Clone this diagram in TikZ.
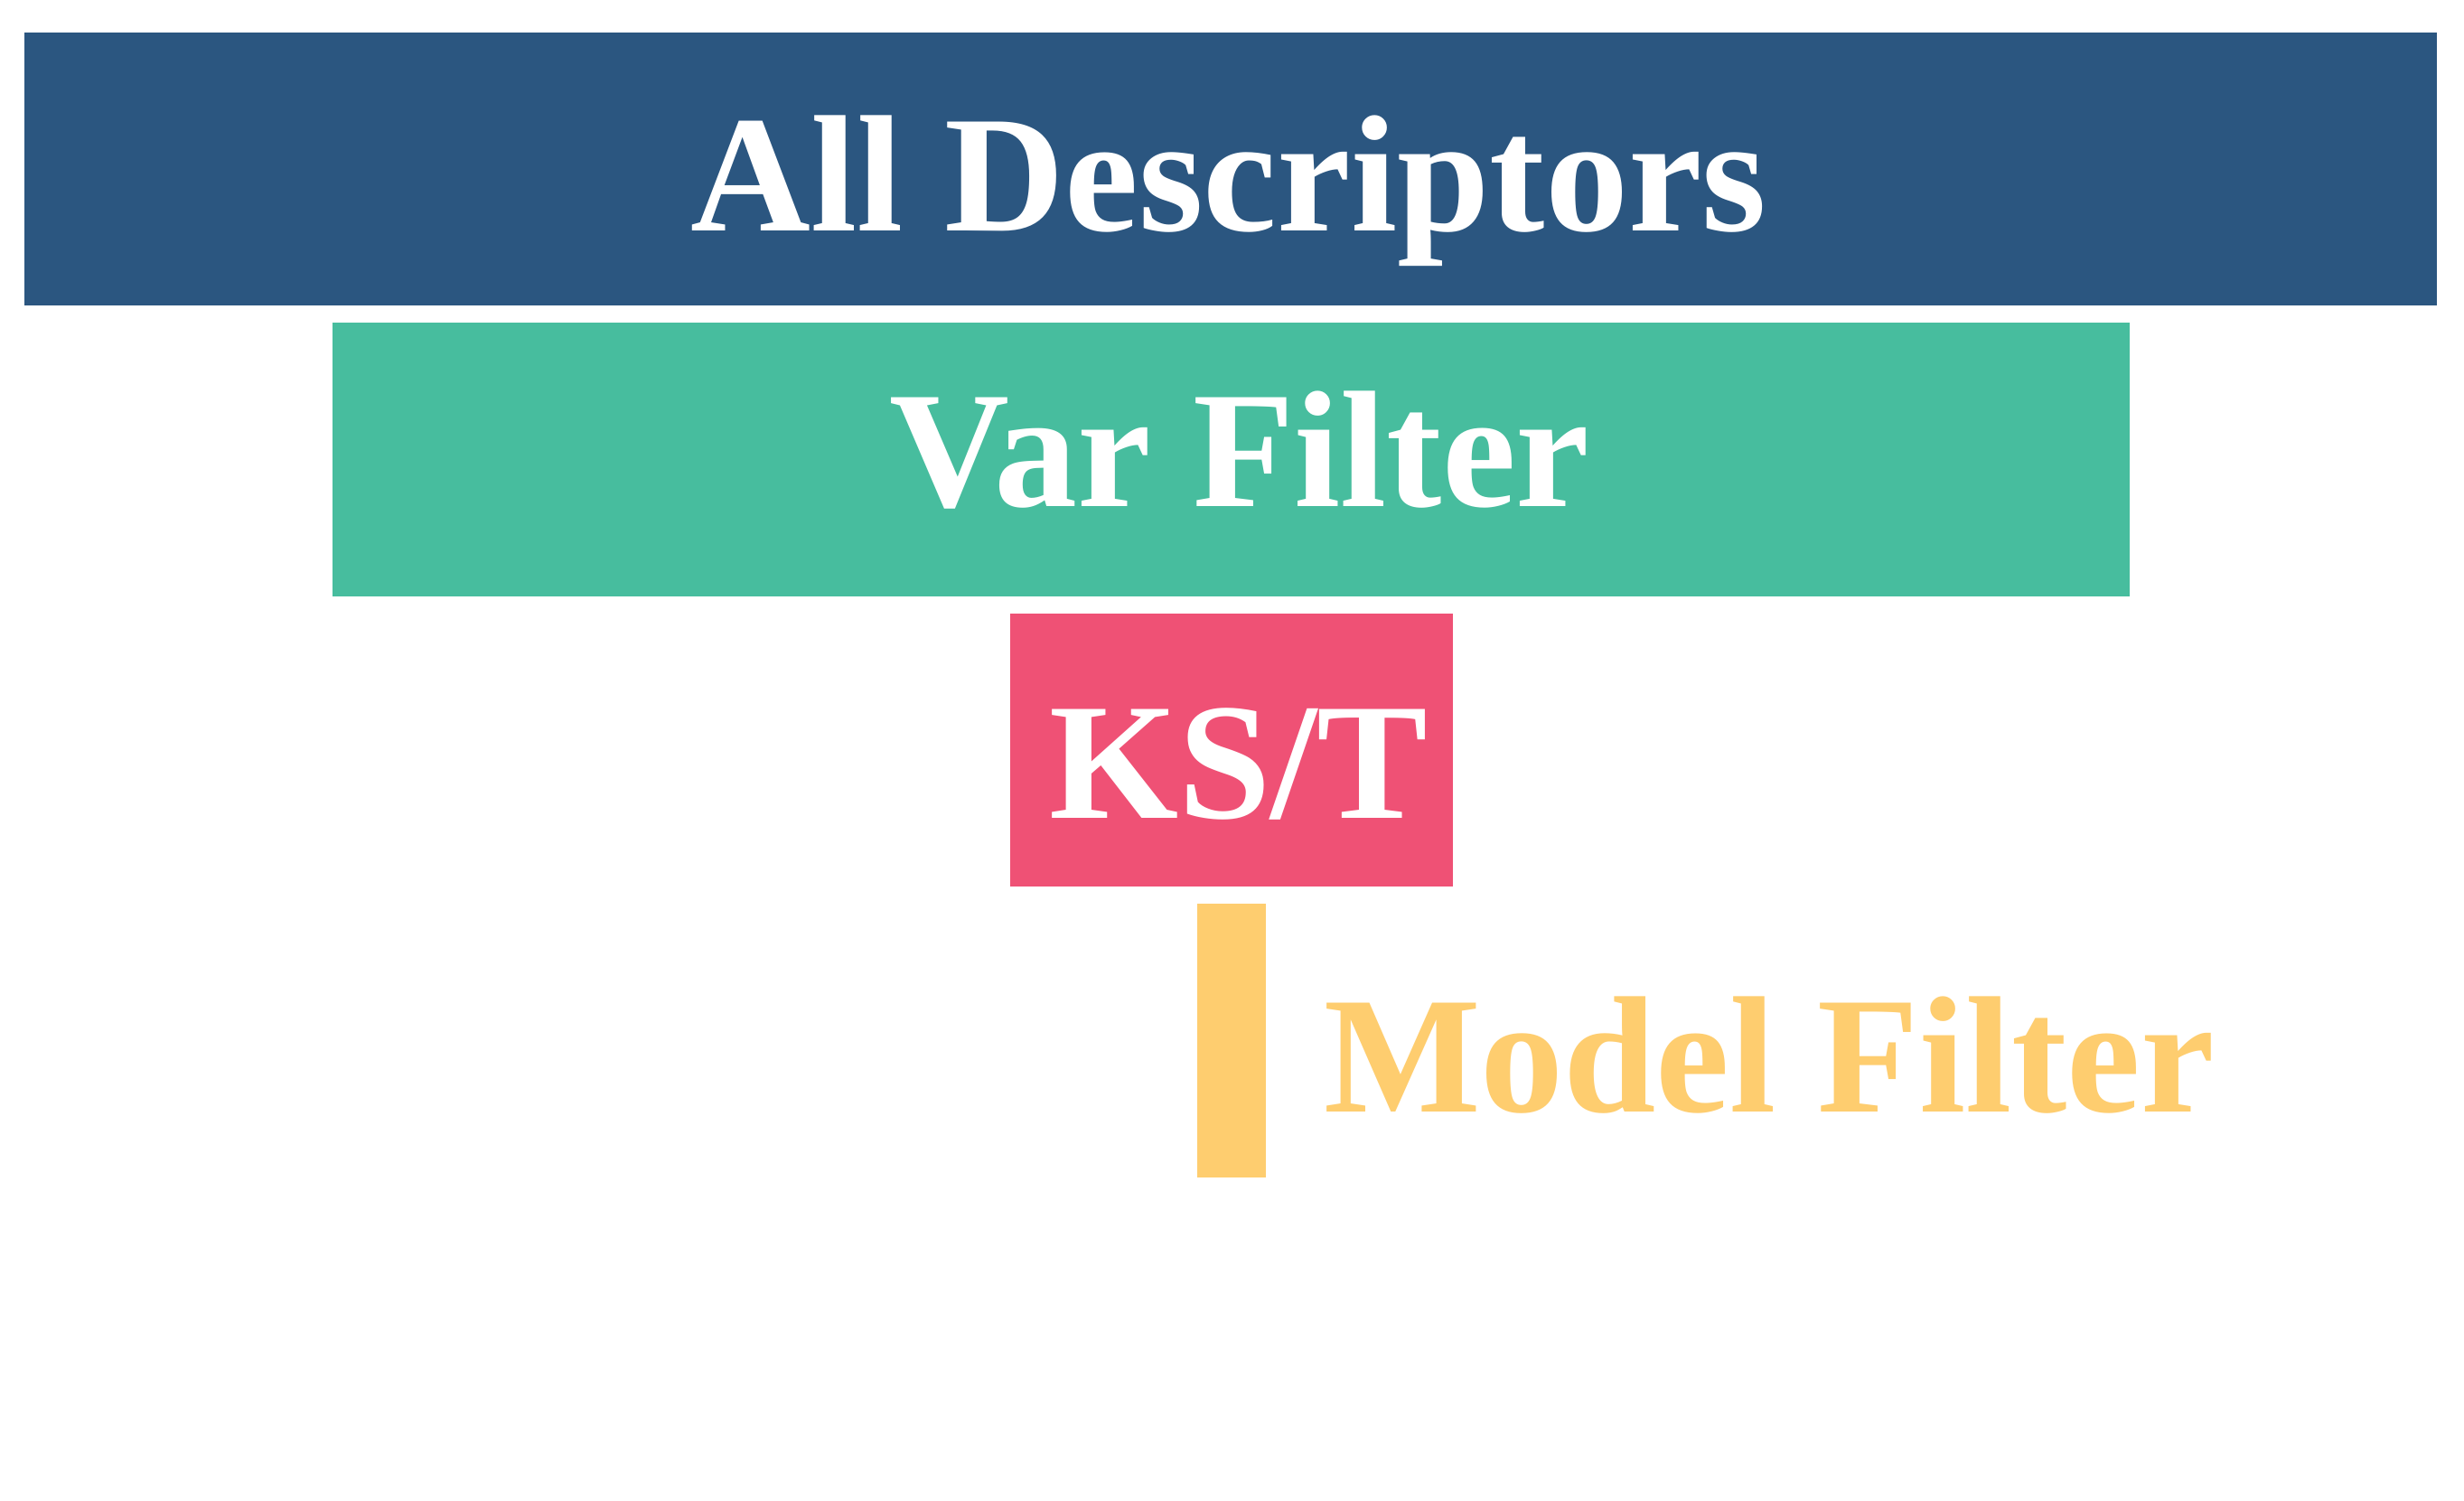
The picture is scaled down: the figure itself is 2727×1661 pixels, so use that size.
\documentclass[tikz,border=0pt]{standalone}
\usepackage{fontspec}
\setmainfont{Liberation Serif}
\definecolor{cblue}{HTML}{2B5680}
\definecolor{cgreen}{HTML}{47BD9E}
\definecolor{cred}{HTML}{EF5175}
\definecolor{cyellow}{HTML}{FECD6F}
\tikzset{
  bar/.style={inner sep=0pt, outer sep=0pt, draw=none},
  label/.style={inner sep=0pt, outer sep=0pt, anchor=base, font=\fontsize{18.4pt}{20pt}\selectfont\bfseries},
}
\begin{document}
\begin{tikzpicture}[x=0.1pt, y=-0.1pt]
\useasboundingbox[fill=white] (0,0) rectangle (2727,1661);
\node[bar, fill=cblue, minimum width=267pt, minimum height=30.2pt] (all) at (1362,187) {};
\node[bar, fill=cgreen, minimum width=198.9pt, minimum height=30.3pt] (var) at (1362.5,508.5) {};
\node[bar, fill=cred, minimum width=49pt, minimum height=30.2pt] (ks) at (1363,830) {};
\node[bar, fill=cyellow, minimum width=7.6pt, minimum height=30.3pt] (model) at (1363,1151.5) {};
\node[label, text=white] (tall) at (1360,256) {All Descriptors};
\node[label, text=white] (tvar) at (1372,560) {Var Filter};
\node[label, text=white] (tks) at (1371,905) {KS/T};
\node[label, text=cyellow, anchor=base west] (tmodel) at (1465,1230) {Model Filter};
\end{tikzpicture}
\end{document}
